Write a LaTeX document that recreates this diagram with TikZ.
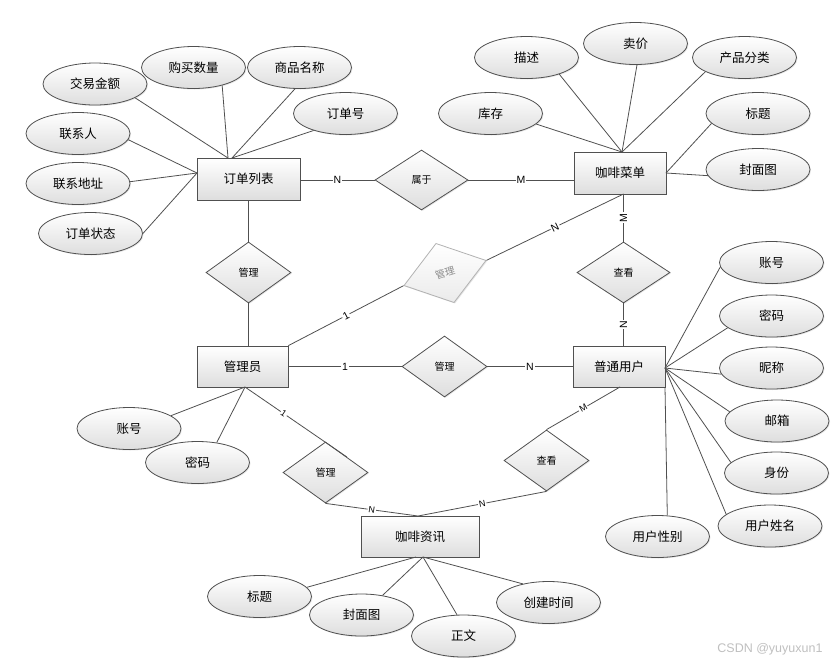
\documentclass[tikz,border=0pt]{standalone}
\usepackage{fontspec}
\setmainfont{Noto Sans CJK SC}
\newfontfamily\lat{Liberation Sans}
\usetikzlibrary{shapes.geometric,shadows}
\definecolor{edgecol}{HTML}{505050}
\begin{document}
\begin{tikzpicture}[x=1pt,y=-1pt,
  base/.style={draw=edgecol, line width=0.8pt, top color=white, bottom color=black!13,
    drop shadow={shadow xshift=1pt,shadow yshift=-1pt,opacity=0.2}},
  ent/.style={base, rectangle, minimum height=42pt, inner sep=0pt, font=\fontsize{12.5}{14}\selectfont},
  attr/.style={base, ellipse, minimum width=104pt, minimum height=42pt, inner sep=0pt, font=\fontsize{12.5}{14}\selectfont},
  rel/.style={base, diamond, minimum width=85pt, minimum height=61pt, inner sep=0pt, font=\fontsize{10}{12}\selectfont},
  link/.style={draw=edgecol, line width=0.8pt},
  card/.style={fill=white, inner sep=1pt, font=\lat\fontsize{10.5}{12}\selectfont, text=black},
  cardsm/.style={card, font=\lat\fontsize{9}{10}\selectfont},
]
\useasboundingbox (0,0) rectangle (840,665);

% entities
\node[ent, minimum width=103pt] (orders) at (248.5,179) {订单列表};
\node[ent, minimum width=92pt] (menu) at (620,173) {咖啡菜单};
\node[ent, minimum width=91pt, minimum height=41pt] (admin) at (242.5,366.5) {管理员};
\node[ent, minimum width=92pt, minimum height=41pt] (user) at (619,366.5) {普通用户};
\node[ent, minimum width=118pt, minimum height=41pt] (news) at (420,536.5) {咖啡资讯};

% relations
\node[rel, minimum width=93pt, minimum height=60pt] (belong) at (421.5,180) {属于};
\node[rel] (mg1) at (248.5,272.5) {管理};
\node[rel, draw=black!30, text=black!45, top color=white, bottom color=black!8, minimum width=86pt, minimum height=62pt, rotate=17] (mg2) at (445,273) {管理};
\node[rel, minimum width=93pt] (view1) at (623.5,272.5) {查看};
\node[rel] (mg3) at (444.5,366.5) {管理};
\node[rel] (mg4) at (325.5,472.5) {管理};
\node[rel] (view2) at (546.5,460.5) {查看};

% attributes of orders
\node[attr] (a1) at (95,84) {交易金额};
\node[attr] (a2) at (193.5,67.5) {购买数量};
\node[attr] (a3) at (299.5,67.5) {商品名称};
\node[attr] (a4) at (345.5,113.5) {订单号};
\node[attr] (a5) at (78,133.5) {联系人};
\node[attr] (a6) at (78,183.5) {联系地址};
\node[attr] (a7) at (90.5,233.5) {订单状态};
% attributes of menu
\node[attr] (b1) at (526.5,57.5) {描述};
\node[attr] (b2) at (635.5,43.5) {卖价};
\node[attr] (b3) at (744.5,57.5) {产品分类};
\node[attr] (b4) at (490.5,113.5) {库存};
\node[attr] (b5) at (758,113.5) {标题};
\node[attr] (b6) at (758,169.5) {封面图};
% attributes of user
\node[attr] (c1) at (771.5,262.5) {账号};
\node[attr] (c2) at (771.5,316) {密码};
\node[attr] (c3) at (771.5,368) {昵称};
\node[attr] (c4) at (777,421) {邮箱};
\node[attr] (c5) at (776.5,473) {身份};
\node[attr] (c6) at (770,526) {用户姓名};
\node[attr] (c7) at (657.5,536.5) {用户性别};
% attributes of admin
\node[attr] (d1) at (129,428.5) {账号};
\node[attr] (d2) at (197.5,462.5) {密码};
% attributes of news
\node[attr] (e1) at (259.5,596.5) {标题};
\node[attr] (e2) at (361.5,615) {封面图};
\node[attr] (e3) at (463.5,636) {正文};
\node[attr] (e4) at (548.5,602.5) {创建时间};

% hub points
\coordinate (oT1) at (228,158);
\coordinate (oT2) at (232,158);
\coordinate (oL) at (197,173);
\coordinate (mT) at (622,152);
\coordinate (mR) at (666,173);
\coordinate (mS) at (623.5,194);
\coordinate (uR) at (665,368);
\coordinate (uBR) at (665,387);
\coordinate (uB) at (620,387);
\coordinate (aB) at (245,387);
\coordinate (nB1) at (416,557);
\coordinate (nB) at (423,557);
\coordinate (nT) at (418,516);

% attribute links
\draw[link] (a1.341) -- (oT1);
\draw[link] (a2.328) -- (oT1);
\draw[link] (a3.258) -- (oT2);
\draw[link] (a4.208) -- (oT2);
\draw[link] (a5.353) -- (oL);
\draw[link] (a6.2) -- (oL);
\draw[link] (a7.0) -- (oL);
\draw[link] (b1.333) -- (mT);
\draw[link] (b2.274) -- (mT);
\draw[link] (b3.200) -- (mT);
\draw[link] (b4.347) -- (mT);
\draw[link] (b5.192) -- (mR);
\draw[link] (b6.187) -- (mR);
\draw[link] (c1.185) -- (uR);
\draw[link] (c2.195) -- (uR);
\draw[link] (c3.187) -- (uR);
\draw[link] (c4.169) -- (uR);
\draw[link] (c5.167) -- (uR);
\draw[link] (c6.165) -- (uR);
\draw[link] (uBR) -- (c7.65);
\draw[link] (d1.17) -- (aB);
\draw[link] (d2.46) -- (aB);
\draw[link] (e1.11) -- (nB1);
\draw[link] (e2.43) -- (nB);
\draw[link] (e3.107) -- (nB);
\draw[link] (e4.144) -- (nB);

% relationship links
\draw[link] (orders.east |- belong) -- node[card]{N} (belong.west);
\draw[link] (belong.east) -- node[card]{M} (belong.east -| menu.west);
\draw[link] (mS) -- node[card, rotate=90]{M} (view1.north);
\draw[link] (view1.south) -- node[card, rotate=90]{N} (view1.south |- user.north);
\draw[link] (orders.south) -- (mg1.north);
\draw[link] (mg1.south) -- (mg1.south |- admin.north);
\draw[link] (admin.north east) -- node[card, sloped]{1} (mg2.west);
\draw[link] (mg2.east) -- node[card, sloped]{N} (mS);
\draw[link] (admin.east) -- node[card]{1} (mg3.west);
\draw[link] (mg3.east) -- node[card]{N} (user.west);
\draw[link] (aB) -- node[cardsm, sloped, pos=0.38]{1} (mg4.north east);
\draw[link] (mg4.south) -- node[cardsm, sloped]{N} (nT);
\draw[link] (nT) -- node[cardsm, sloped]{N} (view2.south);
\draw[link] (uB) -- node[cardsm, sloped]{M} (view2.north);

\node[font=\lat\fontsize{12.5}{14}\selectfont, text=black!25, anchor=east] (wm) at (826,649) {CSDN @yuyuxun1};
\end{tikzpicture}
\end{document}
